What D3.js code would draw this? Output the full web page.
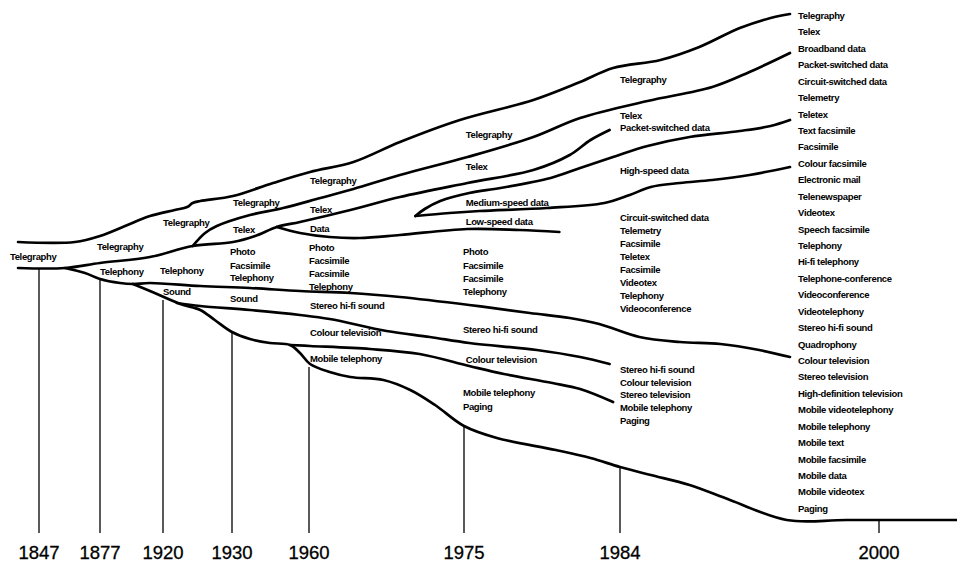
<!DOCTYPE html>
<html>
<head>
<meta charset="utf-8">
<script src="https://cdn.jsdelivr.net/npm/d3@7"></script>
<style>
  body { margin: 0; background: #fff; }
  svg { display: block; }
  text { font-family: "Liberation Sans", Arial, sans-serif; fill: #000; }
</style>
</head>
<body>
<svg id="chart"></svg>
<script>
// Evolution of telecommunication services, 1847 - 2000

const W = 957, H = 565;

// time axis (uneven spacing, as in the original figure)
const years = [1847, 1877, 1920, 1930, 1960, 1975, 1984, 2000];

// vertical drop lines: year and the level where each one starts
const dropYears = [1847, 1877, 1920, 1930, 1960, 1975, 1984, 2000];
const dropTop = [53, 50.6, 46.6, 40, 33.2, 21.4, 13.2, 2.6];

// branch lines as [year, level]
const topLine = [[1836.7,58.2],[1864.7,58.2],[1877,59.4],[1894.1,61.4],[1911.1,63.4],[1921.7,64.6],[1923.5,65.2],
  [1924.3,66],[1925.4,66.4],[1930.4,67.4],[1946,70],[1960.1,72.2],[1964.3,74.2],[1968.8,78.2],[1974.6,82.6],
  [1979,86.6],[1981.7,90.2],[1983.6,93],[1986.5,94.6],[1988.9,97.2],[1991.4,101],[1993.3,103],[1994.5,103.8]];
const telegraphyTelex = [[1924.3,57.4],[1926.1,60],[1927.8,61.4],[1937,63.6],[1949.9,65],[1961.1,67],[1964.3,68.8],
  [1968.8,71.6],[1975.2,75.2],[1979,79.2],[1981.7,83],[1985.7,86.4],[1989.7,89.2],[1992,92.2],[1994.5,96]];
const telexData = [[1836.7,53],[1859.8,53],[1877,54],[1911.1,55.2],[1924.3,57.4],[1930.4,58.2],[1939,59.4],[1947.5,61.2],
  [1956.5,62.2],[1964,64.6],[1968.8,67.2],[1975.2,70],[1979,72.6],[1981.1,75.6],[1982.3,78.6],[1983.4,80.6]];
const dataLow = [[1947.5,61.2],[1956.5,60],[1962,59.2],[1964.9,59],[1968.8,59.6],[1975.2,60.8],[1978.2,60.6],[1980.5,60.2]];
const mediumUpper = [[1970.3,63.4],[1971.2,64.8],[1972.7,66.4],[1975.3,68],[1977.1,69],[1980,71],[1981.7,73],
  [1983.6,75.2],[1985.7,77.4],[1988.3,79.2],[1991.4,80.4],[1993.3,81.4],[1994.5,82.6]];
const mediumLower = [[1970.3,63.4],[1973.6,64],[1975.9,64.4],[1979.8,65],[1983.1,66],[1984.6,67.6],[1985.9,69.2],
  [1987.7,70],[1989.7,70.6],[1992,71.6],[1994.5,73.2]];
const telephonyLine = [[1859.8,53],[1869.6,52],[1877,50.8],[1890.7,50],[1899.5,49.8],[1911.1,50],[1925.4,49.4],
  [1937,49],[1956.5,48.4],[1964,48],[1968.8,47.2],[1975.3,45.6],[1978.8,44],[1981.1,43],[1982.8,41.8],
  [1985.2,39.2],[1987.7,38.2],[1990.2,37.8],[1992.6,36.6],[1994.5,35.2]];
const soundLine = [[1922,46],[1925.4,45.4],[1937,44.6],[1956.5,43.6],[1962,42.8],[1967.5,40.4],[1971.7,39.2],
  [1975.3,38],[1979.2,36.6],[1981.7,35.2],[1983.4,33.8]];
const mobileLine = [[1952.6,37.6],[1960.1,37.4],[1965.9,36.8],[1970.7,35.8],[1975.3,33.4],[1977.3,31.8],[1980.1,30],
  [1981.7,28.8],[1983.6,26.2]];
const bottomLine = [[1899.5,49.8],[1911.1,48.4],[1922.5,45.8],[1925.4,44.6],[1927.5,42.6],[1930,40.2],[1937,38.8],
  [1944.8,38],[1952.6,37.6],[1956.5,36],[1960.1,33.8],[1962,32.2],[1964,31.2],[1967.2,30.6],[1969.8,28.6],
  [1972.2,25.6],[1975,21.4],[1976.9,19],[1980.3,16.6],[1982.3,15],[1984,13.2],[1985.9,11.6],[1988.3,9.6],
  [1990.8,6.6],[1994.3,2.6],[1998,2.6],[2004.8,2.6]];

// labels inside the tree: [text, year, level]
const labels = [
  ["Telegraphy",1832.7,55.2],
  ["Telegraphy",1875.5,57.2], ["Telephony",1877,52.2],
  ["Telegraphy",1920,62], ["Telephony",1918,52.4], ["Sound",1920,48.2],
  ["Telegraphy",1930.4,66], ["Telex",1930.4,60.6], ["Photo",1929.7,56.2], ["Facsimile",1929.7,53.4],
  ["Telephony",1929.7,51], ["Sound",1929.7,46.8],
  ["Telegraphy",1960.1,70.4], ["Telex",1960.1,64.6], ["Data",1960.1,60.8], ["Photo",1960,57],
  ["Facsimile",1960,54.4], ["Facsimile",1960,51.8], ["Telephony",1960,49.2],
  ["Stereo hi-fi sound",1960.1,45.4], ["Colour television",1960.1,40], ["Mobile telephony",1960.1,34.8],
  ["Telegraphy",1975.1,79.6], ["Telex",1975.1,73.2], ["Medium-speed data",1975.1,66], ["Low-speed data",1975.1,62.2],
  ["Photo",1974.9,56.2], ["Facsimile",1974.9,53.4], ["Facsimile",1974.9,50.8], ["Telephony",1974.9,48.2],
  ["Stereo hi-fi sound",1974.9,40.6], ["Colour television",1975.1,34.6], ["Mobile telephony",1974.9,28], ["Paging",1974.9,25.2],
  ["Telegraphy",1984,90.6], ["Telex",1984,83.4], ["Packet-switched data",1984,81], ["High-speed data",1984,72.4],
  ["Circuit-switched data",1984,63], ["Telemetry",1984,60.4], ["Facsimile",1984,57.8], ["Teletex",1984,55.2],
  ["Facsimile",1984,52.6], ["Videotex",1984,50], ["Telephony",1984,47.4], ["Videoconference",1984,44.8],
  ["Stereo hi-fi sound",1984,32.6], ["Colour television",1984,30], ["Stereo television",1984,27.6],
  ["Mobile telephony",1984,25], ["Paging",1984,22.4]
];

// services listed for 2000
const services2000 = ["Telegraphy","Telex","Broadband data","Packet-switched data","Circuit-switched data",
  "Telemetry","Teletex","Text facsimile","Facsimile","Colour facsimile","Electronic mail","Telenewspaper",
  "Videotex","Speech facsimile","Telephony","Hi-fi telephony","Telephone-conference","Videoconference",
  "Videotelephony","Stereo hi-fi sound","Quadrophony","Colour television","Stereo television",
  "High-definition television","Mobile videotelephony","Mobile telephony","Mobile text","Mobile facsimile",
  "Mobile data","Mobile videotex","Paging"];

const svg = d3.select('#chart').attr('width', W).attr('height', H);

const x = d3.scaleLinear().domain(years).range([39, 100, 163, 232, 309, 464, 620, 879]);
const y = d3.scaleLinear().domain([0, 104]).range([533, 13]);
const yList = d3.scalePoint().domain(services2000).range([y(103.46), y(4.88)]);

// drop lines
svg.append('g').selectAll('line')
  .data(dropYears)
  .enter().append('line')
  .attr('x1', d => x(d)).attr('x2', d => x(d))
  .attr('y1', (d, i) => y(dropTop[i])).attr('y2', y(0))
  .style('stroke', '#000')
  .style('stroke-width', 1.3);

// branches
const line = d3.line()
  .x(d => x(d[0]))
  .y(d => y(d[1]))
  .curve(d3.curveCatmullRom.alpha(0.5));

const branches = [topLine, telegraphyTelex, telexData, dataLow, mediumUpper, mediumLower,
  telephonyLine, soundLine, mobileLine, bottomLine];
svg.append('g').selectAll('path')
  .data(branches)
  .enter().append('path')
  .attr('d', line)
  .style('fill', 'none')
  .style('stroke', '#000')
  .style('stroke-width', 2.7)
  .style('stroke-linecap', 'round')
  .style('stroke-linejoin', 'round');

// labels in the tree
svg.append('g').selectAll('text')
  .data(labels)
  .enter().append('text')
  .attr('x', d => x(d[1]))
  .attr('y', d => y(d[2]))
  .attr('dy', '0.35em')
  .style('font-size', '9.5px')
  .style('font-weight', 'bold')
  .style('letter-spacing', '-0.35px')
  .text(d => d[0]);

// list for 2000
svg.append('g').selectAll('text')
  .data(services2000)
  .enter().append('text')
  .attr('x', x(1995))
  .attr('y', d => yList(d))
  .attr('dy', '0.35em')
  .style('font-size', '9.5px')
  .style('font-weight', 'bold')
  .style('letter-spacing', '-0.35px')
  .text(d => d);

// year labels
svg.append('g').selectAll('text')
  .data(years)
  .enter().append('text')
  .attr('x', d => x(d))
  .attr('y', y(-4))
  .attr('dy', '0.35em')
  .attr('text-anchor', 'middle')
  .style('font-size', '18.5px')
  .style('stroke', '#000')
  .style('stroke-width', 0.3)
  .text(d => d);
</script>
</body>
</html>
